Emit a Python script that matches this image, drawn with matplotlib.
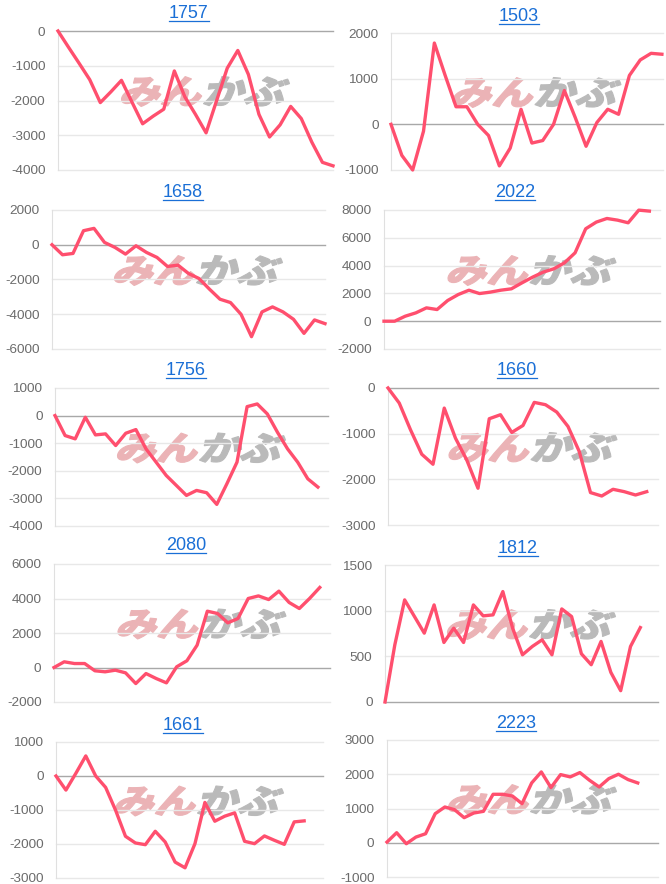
import matplotlib
matplotlib.use("Agg")
import matplotlib.pyplot as plt
from matplotlib.textpath import TextPath
from matplotlib.font_manager import FontProperties
from matplotlib.patches import PathPatch
from matplotlib.transforms import Affine2D, IdentityTransform
from matplotlib.lines import Line2D

plt.rcParams["font.family"] = ["Liberation Sans", "DejaVu Sans"]
plt.rcParams["axes.unicode_minus"] = False

# ---- data (cumulative values per stock code) ----
codes = ["1757", "1503", "1658", "2022", "1756", "1660", "2080", "1812", "1661", "2223"]

s1757 = [0, -470, -930, -1400, -2060, -1750, -1420, -2050, -2670, -2450, -2250, -1150, -1900,
         -2400, -2930, -2000, -1070, -560, -1250, -2400, -3050, -2700, -2170, -2520, -3200,
         -3780, -3880]
s1503 = [0, -680, -1000, -150, 1780, 1070, 385, 385, 0, -245, -910, -520, 330, -410, -355, 0,
         740, 150, -480, 40, 330, 220, 1070, 1410, 1555, 1535]
s1658 = [0, -577, -500, 808, 942, 135, -154, -538, -58, -442, -730, -1250, -1173, -1654, -1942,
         -2558, -3135, -3327, -4000, -5290, -3865, -3577, -3865, -4290, -5100, -4327, -4540]
s2022 = [0, 0, 360, 600, 960, 840, 1490, 1920, 2230, 1990, 2090, 2230, 2330, 2760, 3170, 3530,
         3770, 4200, 4920, 6650, 7130, 7390, 7270, 7080, 7990, 7920]
s1756 = [0, -723, -843, -60, -699, -663, -1084, -639, -506, -1205, -1687, -2169, -2530, -2892,
         -2711, -2795, -3217, -2470, -1687, 325, 422, 60, -602, -1205, -1687, -2290, -2590]
s1660 = [0, -330, -915, -1450, -1670, -440, -1100, -1575, -2195, -673, -585, -973, -820, -315,
         -366, -527, -842, -1390, -2290, -2365, -2218, -2270, -2343, -2270]
s2080 = [0, 330, 230, 230, -190, -250, -155, -310, -930, -350, -640, -890, 40, 390, 1295, 3265,
         3130, 2590, 2840, 4000, 4150, 3940, 4425, 3770, 3420, 4000, 4640]
s1812 = [0, 626, 1118, 936, 754, 1063, 652, 808, 652, 1063, 943, 954, 1209, 808, 517, 608, 681,
         517, 1019, 936, 528, 408, 663, 324, 124, 608, 815]
s1661 = [0, -414, 79, 591, 0, -335, -1005, -1773, -1970, -2020, -1626, -1940, -2532, -2700,
         -1990, -778, -1330, -1182, -1084, -1921, -1990, -1763, -1891, -2010, -1350, -1320]
s2223 = [20, 293, -29, 166, 263, 849, 1044, 966, 732, 868, 917, 1415, 1415, 1366, 1141, 1746,
         2068, 1610, 1990, 1922, 2049, 1824, 1629, 1873, 2000, 1844, 1746]
series = [s1757, s1503, s1658, s2022, s1756, s1660, s2080, s1812, s1661, s2223]

y_ranges = [(-4000, 0, 1000), (-1000, 2000, 1000), (-6000, 2000, 2000), (-2000, 8000, 2000),
            (-4000, 1000, 1000), (-3000, 0, 1000), (-2000, 6000, 2000), (0, 1500, 500),
            (-3000, 1000, 1000), (-1000, 3000, 1000)]
x_right = [26, 25.1, 26, 26, 27, 24, 27, 27.8, 26.9, 28.1]

# ---- layout in output pixels: left, top, right, bottom, title x, title baseline ----
layout = [(58, 31, 333, 170, 189, 18), (391, 33, 663, 170, 519, 21),
          (52, 210, 325, 349, 183, 197), (384, 210, 660, 349, 515, 197),
          (55, 388, 328, 526, 186, 375), (388, 388, 658, 525, 517, 375),
          (54, 564, 330, 702, 186, 550), (385, 565, 658, 702, 518, 553),
          (56, 742, 323, 878, 183, 730), (387, 740, 658, 877, 516, 728)]

W, H = 666, 884
LINE = "#ff4f6e"
BLUE = "#1a6fd6"
GRID = "#e8e8e8"

fig = plt.figure(figsize=(W / 100, H / 100), dpi=100)
fig.patch.set_facecolor("white")

jp = FontProperties(family="Noto Sans CJK JP", weight="black")
p_pink = TextPath((0, 0), "みん", size=40, prop=jp)
w_pink = p_pink.get_extents().x1
p_gray = TextPath((w_pink + 2, 0), "かぶ", size=40, prop=jp)


def watermark(cx, cy):
    # cx, cy: centre in top-origin pixels
    skew = Affine2D().skew_deg(14, 0)
    a = p_pink.transformed(skew)
    b = p_gray.transformed(skew)
    ea, eb = a.get_extents(), b.get_extents()
    x0, x1 = min(ea.x0, eb.x0), max(ea.x1, eb.x1)
    y0, y1 = min(ea.y0, eb.y0), max(ea.y1, eb.y1)
    tw, th = 168, 30
    t = (Affine2D().translate(-(x0 + x1) / 2, -(y0 + y1) / 2)
         .scale(tw / (x1 - x0), th / (y1 - y0)).translate(cx, H - cy))
    for p, c in [(a, "#ebb3b6"), (b, "#bababa")]:
        fig.add_artist(PathPatch(p.transformed(t), facecolor=c, edgecolor=c, lw=0.8,
                                 transform=IdentityTransform(), zorder=-1))


renderer = fig.canvas.get_renderer()
for code, vals, (lo, hi, step), xr, (l, t, r, b, tx, ty) in zip(
        codes, series, y_ranges, x_right, layout):
    ax = fig.add_axes([l / W, 1 - b / H, (r - l) / W, (b - t) / H])
    ax.patch.set_alpha(0)
    watermark((l + r) / 2 + 10, (t + b) / 2 - 9)

    ax.plot(range(len(vals)), vals, color=LINE, lw=2.4, zorder=3, clip_on=False,
            solid_joinstyle="round")
    ax.set_xlim(0, xr)
    ax.set_ylim(lo, hi)
    ticks = list(range(lo, hi + 1, step))
    ax.set_yticks(ticks)
    ax.set_yticklabels([str(v) for v in ticks])
    ax.set_xticks([])
    for v in ticks:
        ax.axhline(v, color="#a8a8a8" if v == 0 else GRID, lw=1, zorder=1, clip_on=False)
    for s in ["top", "right", "bottom"]:
        ax.spines[s].set_visible(False)
    ax.spines["left"].set_color("#e0e0e0")
    ax.tick_params(axis="y", length=0, pad=9, labelsize=9.7, labelcolor="#6b6b6b")

    txt = fig.text(tx / W, 1 - ty / H, code, ha="center", va="baseline",
                   fontsize=13, color=BLUE)
    bb = txt.get_window_extent(renderer=renderer)
    fig.add_artist(Line2D([bb.x0, bb.x1], [H - ty - 2.5, H - ty - 2.5], color=BLUE,
                          lw=0.9, transform=IdentityTransform()))

fig.savefig("out.png", dpi=100, facecolor="white")
